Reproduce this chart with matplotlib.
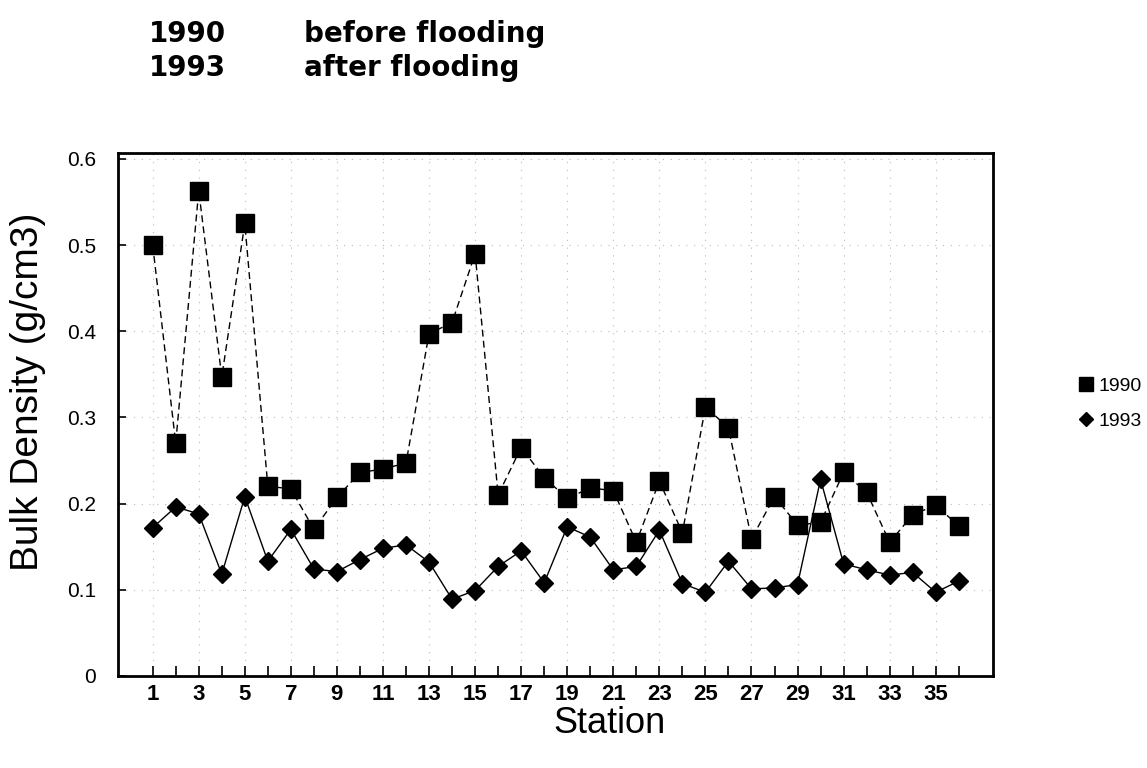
import matplotlib
matplotlib.use("Agg")
import numpy as np
import matplotlib.pyplot as plt

# ---------------------------------------------------------------------------
# Data - bulk density per station
# ---------------------------------------------------------------------------
stations = np.arange(1, 37)

density_1990 = [0.500, 0.270, 0.563, 0.347, 0.525, 0.220, 0.217, 0.170, 0.207,
                0.236, 0.240, 0.247, 0.397, 0.410, 0.490, 0.210, 0.265, 0.230,
                0.206, 0.218, 0.215, 0.155, 0.226, 0.166, 0.312, 0.288, 0.159,
                0.208, 0.175, 0.178, 0.236, 0.213, 0.155, 0.187, 0.198, 0.174]

density_1993 = [0.172, 0.196, 0.188, 0.118, 0.208, 0.133, 0.170, 0.124, 0.121,
                0.135, 0.148, 0.152, 0.132, 0.089, 0.099, 0.127, 0.145, 0.108,
                0.173, 0.161, 0.123, 0.127, 0.169, 0.107, 0.097, 0.133, 0.101,
                0.102, 0.106, 0.228, 0.130, 0.123, 0.117, 0.120, 0.097, 0.110]

y_ticks = [0, 0.1, 0.2, 0.3, 0.4, 0.5, 0.6]
y_tick_labels = ["0", "0.1", "0.2", "0.3", "0.4", "0.5", "0.6"]
x_label_ticks = list(range(1, 37, 2))

plt.rcParams["font.family"] = ["Liberation Sans", "DejaVu Sans"]

fig = plt.figure(figsize=(11.47, 7.68), dpi=100)
ax = fig.add_axes([0.103, 0.12, 0.763, 0.681])

# faint dotted grid, like the speckled lines in the scan
for y in y_ticks[1:]:
    ax.axhline(y, color="#bbbbbb", lw=0.8, ls=(0, (1, 6)), zorder=0)
for x in x_label_ticks:
    ax.axvline(x, color="#bbbbbb", lw=0.8, ls=(0, (1, 6)), zorder=0)

ax.plot(stations, density_1990, color="black", lw=1.0, ls=(0, (5, 3)),
        marker="s", ms=13, mfc="black", mec="black", label="1990", zorder=3)
ax.plot(stations, density_1993, color="black", lw=1.0, ls="-",
        marker="D", ms=9.5, mfc="black", mec="black", label="1993", zorder=3)

ax.set_xlim(-0.5, 37.5)
ax.set_ylim(0, 0.607)
ax.set_yticks(y_ticks)
ax.set_yticklabels(y_tick_labels, fontsize=15)
ax.set_xticks(stations, minor=True)
ax.set_xticks(x_label_ticks)
ax.set_xticklabels([str(s) for s in x_label_ticks], fontsize=16, fontweight="bold")
ax.tick_params(axis="x", which="both", direction="in", length=7, width=1.2, pad=6)
ax.tick_params(axis="y", direction="in", length=6, width=1.2, pad=16)

for sp in ax.spines.values():
    sp.set_linewidth(2.0)

ax.set_ylabel("Bulk Density (g/cm3)", fontsize=28)
ax.yaxis.set_label_coords(-0.083, 0.543, transform=ax.transAxes)
ax.set_xlabel("Station", fontsize=26)
ax.xaxis.set_label_coords(0.562, -0.058, transform=ax.transAxes)
ax.xaxis.label.set_va("top")

# header lines
hdr = dict(fontsize=20, fontweight="bold", va="center", family="DejaVu Sans")
fig.text(0.13, 0.956, "1990", **hdr)
fig.text(0.265, 0.956, "before flooding", **hdr)
fig.text(0.13, 0.911, "1993", **hdr)
fig.text(0.265, 0.911, "after flooding", **hdr)

ax.legend(loc="center left", bbox_to_anchor=(1.09, 0.52), frameon=False,
          fontsize=14, handlelength=0.6, handletextpad=0.35, labelspacing=0.9,
          numpoints=1, borderaxespad=0, markerscale=0.8)

fig.savefig("out.png", dpi=100, facecolor="white")
